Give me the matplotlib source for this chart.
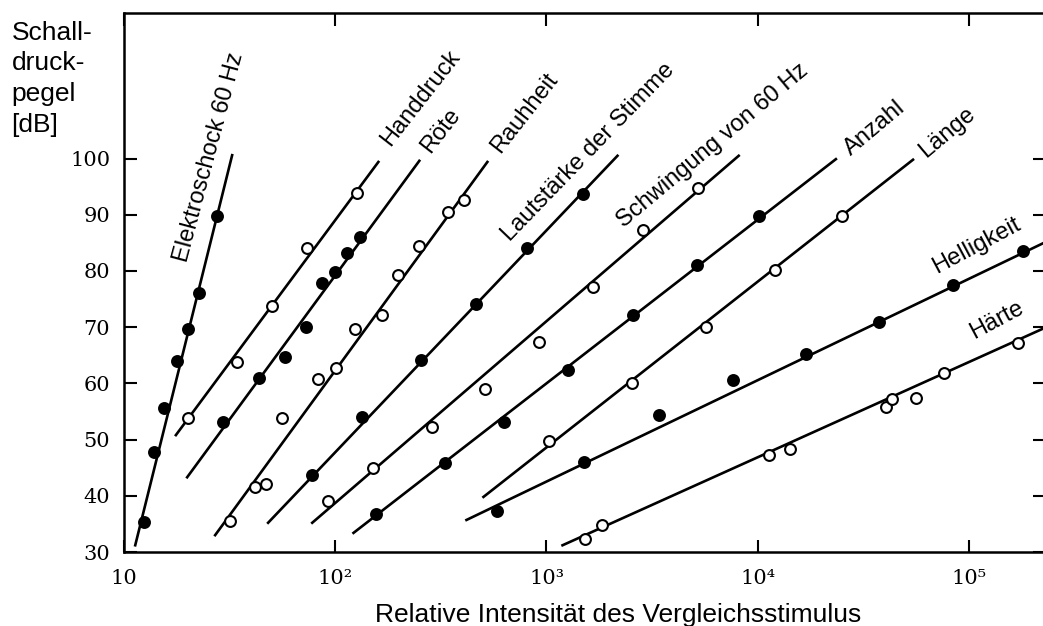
import numpy as np
import matplotlib
matplotlib.use("Agg")
import matplotlib.pyplot as plt

# Werte (x: relative Intensitaet, y: Schalldruckpegel dB)
elektro_x = [12.4, 13.9, 15.5, 17.8, 20.1, 22.6, 27.6]
elektro_y = [35.3, 47.8, 55.6, 64.0, 69.7, 76.1, 89.8]
elektro_line = ([11.3, 32.5], [31.2, 100.6])

hand_x = [20.1, 34.3, 50.3, 73.6, 127]
hand_y = [53.8, 63.8, 73.8, 84.1, 93.9]
hand_line = ([17.6, 160], [50.8, 99.4])

roete_x = [29.4, 43.6, 57.9, 72.9, 86.8, 100, 114, 131]
roete_y = [53.1, 60.9, 64.7, 70.0, 77.9, 79.8, 83.2, 86.0]
roete_line = ([19.9, 250], [43.3, 99.6])

rauh_x = [31.8, 41.8, 47.1, 56.1, 83.1, 101, 124, 167, 199, 250, 343, 409]
rauh_y = [35.5, 41.6, 42.1, 53.8, 60.8, 62.7, 69.7, 72.2, 79.3, 84.4, 90.5, 92.6]
rauh_line = ([27.0, 525], [33.0, 99.4])

laut_x = [77.8, 134, 256, 466, 813, 1483]
laut_y = [43.7, 54.0, 64.2, 74.1, 84.1, 93.7]
laut_line = ([48.1, 2168], [35.2, 100.5])

schw_x = [92.7, 151, 288, 514, 926, 1652, 2851, 5196]
schw_y = [39.1, 44.9, 52.3, 59.0, 67.4, 77.1, 87.3, 94.8]
schw_line = ([77.8, 8128], [35.2, 100.5])

anz_x = [156, 329, 632, 1271, 2557, 5140, 10110]
anz_y = [36.8, 45.8, 53.1, 62.4, 72.2, 81.1, 89.7]
anz_line = ([122, 23440], [33.4, 99.9])

laenge_x = [1033, 2527, 5673, 12050, 25020]
laenge_y = [49.8, 60.1, 70.0, 80.2, 89.8]
laenge_line = ([503, 54330], [39.8, 99.8])

hell_x = [586, 1497, 3393, 7614, 16880, 37440, 83950, 180300]
hell_y = [37.3, 46.0, 54.4, 60.6, 65.2, 70.9, 77.5, 83.6]
hell_line = ([418, 229000], [35.7, 85.1])

haerte_x = [1514, 1823, 11270, 14180, 40460, 43170, 56080, 76170, 170700]
haerte_y = [32.3, 34.8, 47.3, 48.3, 55.8, 57.2, 57.4, 61.8, 67.1]
haerte_line = ([1191, 229000], [31.2, 69.9])

names = ["Elektroschock 60 Hz", "Handdruck", "Röte", "Rauhheit",
         "Lautstärke der Stimme", "Schwingung von 60 Hz", "Anzahl",
         "Länge", "Helligkeit", "Härte"]
filled = [True, False, True, False, True, False, True, False, True, False]

x_ticks = [10, 1e2, 1e3, 1e4, 1e5]
x_ticklabels = ["10", "10²", "10³", "10⁴", "10⁵"]
y_ticks = [30, 40, 50, 60, 70, 80, 90, 100]

# Beschriftung: Position (Datenkoordinaten) und Winkel
label_pos = [(25.2, 100.3, 75), (254.6, 110.8, 52), (317, 104.9, 52),
             (791, 108.1, 52), (1570, 101.2, 46), (6138, 102.2, 40),
             (35870, 105.4, 40), (78700, 104.7, 40), (109200, 84.6, 28),
             (135900, 71.3, 28)]

series = [(elektro_x, elektro_y, elektro_line), (hand_x, hand_y, hand_line),
          (roete_x, roete_y, roete_line), (rauh_x, rauh_y, rauh_line),
          (laut_x, laut_y, laut_line), (schw_x, schw_y, schw_line),
          (anz_x, anz_y, anz_line), (laenge_x, laenge_y, laenge_line),
          (hell_x, hell_y, hell_line), (haerte_x, haerte_y, haerte_line)]

sans = ["Liberation Sans", "DejaVu Sans"]

fig = plt.figure(figsize=(10.43, 6.26), dpi=100)
ax = fig.add_axes([0.1189, 0.1182, 0.883, 0.861])

for (xs, ys, (lx, ly)), name, fill, (tx, ty, rot) in zip(series, names, filled, label_pos):
    ax.plot(lx, ly, color="black", lw=1.9, zorder=2)
    ax.plot(xs, ys, ls="none", marker="o", ms=7.8, mew=1.5,
            mec="black", mfc="black" if fill else "white", zorder=3)
    ax.text(tx, ty, name, rotation=rot, rotation_mode="anchor",
            ha="center", va="center", fontsize=17, family=sans)

ax.set_xscale("log")
ax.set_xlim(10, 2.29e5)
ax.set_ylim(30, 125.9)
ax.set_xticks(x_ticks)
ax.set_xticklabels(x_ticklabels, family="DejaVu Serif", fontsize=15)
ax.xaxis.set_minor_locator(matplotlib.ticker.NullLocator())
ax.set_yticks(y_ticks)
ax.set_yticklabels([str(v) for v in y_ticks], family="DejaVu Serif", fontsize=15)
ax.tick_params(axis="both", which="major", direction="in", length=9, width=1.5,
               top=True, right=True)
ax.tick_params(axis="x", pad=12)
ax.tick_params(axis="y", pad=10)
for sp in ax.spines.values():
    sp.set_linewidth(1.8)

ax.set_xlabel("Relative Intensität des Vergleichsstimulus", family=sans,
              fontsize=19)
ax.xaxis.set_label_coords(0.536, -0.095)
fig.text(0.011, 0.967, "Schall-\ndruck-\npegel\n[dB]", family=sans,
         fontsize=19, ha="left", va="top", linespacing=1.36)

fig.savefig("out.png", dpi=100)
